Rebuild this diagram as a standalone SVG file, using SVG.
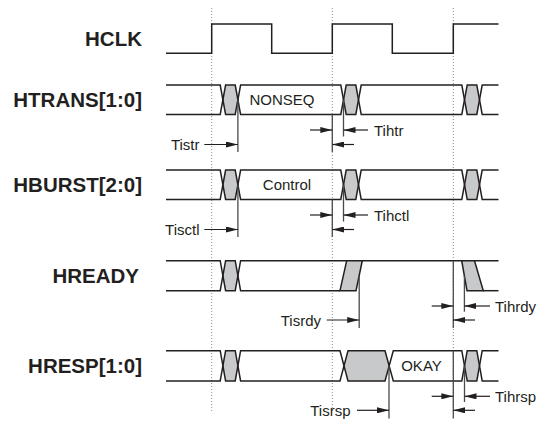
<svg xmlns="http://www.w3.org/2000/svg" width="539" height="421" viewBox="0 0 539 421">
<defs>
<style>
.sig{fill:none;stroke:#231f20;stroke-width:1.5;stroke-linejoin:miter}
.gray{fill:#c8c9cb;stroke:none}
.grays{fill:#c8c9cb;stroke:#231f20;stroke-width:1.5}
.dot{fill:none;stroke:#8a8a8a;stroke-width:1;stroke-dasharray:1 2}
.tl{fill:none;stroke:#4a4a4a;stroke-width:1.3}
.arr{fill:none;stroke:#231f20;stroke-width:1.2}
.lbl{font-family:"Liberation Sans",Arial,sans-serif;font-weight:bold;font-size:20.5px;fill:#231f20;text-anchor:end}
.t{font-family:"Liberation Sans",Arial,sans-serif;font-size:15px;fill:#231f20}
</style>
<marker id="ah" viewBox="0 0 12 6" refX="12" refY="3" markerWidth="12" markerHeight="6" markerUnits="userSpaceOnUse" orient="auto">
<path d="M0,0 L12,3 L0,6 Z" fill="#231f20"/>
</marker>
</defs>
<rect width="539" height="421" fill="#fff"/>

<g id="gridlines">
<line class="dot" x1="211.7" y1="8" x2="211.7" y2="412"/>
<line class="dot" x1="332.3" y1="8" x2="332.3" y2="412"/>
<line class="dot" x1="453.3" y1="8" x2="453.3" y2="412"/>
</g>

<g id="hclk">
<text class="lbl" x="142" y="45.7">HCLK</text>
<path class="sig" d="M166,53.3 H211.7 V24 H271.7 V53.3 H332.3 V24 H392.3 V53.3 H453.3 V24 H498.5"/>
</g>

<g id="htrans">
<text class="lbl" x="142" y="107">HTRANS[1:0]</text>
<polygon class="gray" points="222.9,99.75 225.6,85 235.2,85 237.9,99.75 235.2,114.5 225.6,114.5"/>
<polygon class="gray" points="343.5,99.75 346.2,85 355.8,85 358.5,99.75 355.8,114.5 346.2,114.5"/>
<polygon class="gray" points="464.5,99.75 467.2,85 476.8,85 479.5,99.75 476.8,114.5 467.2,114.5"/>
<path class="sig" d="M166,85 H220.2 L225.6,114.5 H235.2 L240.6,85 H340.8 L346.2,114.5 H355.8 L361.2,85 H461.8 L467.2,114.5 H476.8 L482.2,85 H498.5"/>
<path class="sig" d="M166,114.5 H220.2 L225.6,85 H235.2 L240.6,114.5 H340.8 L346.2,85 H355.8 L361.2,114.5 H461.8 L467.2,85 H476.8 L482.2,114.5 H498.5"/>
<text class="t" x="282" y="105.2" text-anchor="middle">NONSEQ</text>
</g>

<g id="hburst">
<text class="lbl" x="142" y="192">HBURST[2:0]</text>
<polygon class="gray" points="222.9,184.75 225.6,170 235.2,170 237.9,184.75 235.2,199.5 225.6,199.5"/>
<polygon class="gray" points="343.5,184.75 346.2,170 355.8,170 358.5,184.75 355.8,199.5 346.2,199.5"/>
<polygon class="gray" points="464.5,184.75 467.2,170 476.8,170 479.5,184.75 476.8,199.5 467.2,199.5"/>
<path class="sig" d="M166,170 H220.2 L225.6,199.5 H235.2 L240.6,170 H340.8 L346.2,199.5 H355.8 L361.2,170 H461.8 L467.2,199.5 H476.8 L482.2,170 H498.5"/>
<path class="sig" d="M166,199.5 H220.2 L225.6,170 H235.2 L240.6,199.5 H340.8 L346.2,170 H355.8 L361.2,199.5 H461.8 L467.2,170 H476.8 L482.2,199.5 H498.5"/>
<text class="t" x="287" y="190.2" text-anchor="middle">Control</text>
</g>

<g id="hready">
<text class="lbl" x="139" y="282.7">HREADY</text>
<polygon class="gray" points="222.9,275.7 225.6,260.7 235.2,260.7 237.9,275.7 235.2,290.7 225.6,290.7"/>
<path class="sig" d="M166,260.7 H220.2 L225.6,290.7 H235.2 L240.6,260.7 H498.5"/>
<path class="sig" d="M166,290.7 H220.2 L225.6,260.7 H235.2 L240.6,290.7 H340"/>
<polygon class="grays" points="340,290.7 346.7,260.7 362.3,260.7 356,290.7"/>
<polygon class="grays" points="461.7,260.7 474.5,260.7 483.3,290.7 467,290.7"/>
<path class="sig" d="M483.3,290.7 H498.5"/>
</g>

<g id="hresp">
<text class="lbl" x="142" y="373">HRESP[1:0]</text>
<polygon class="gray" points="222.9,365.85 225.6,350.7 235.2,350.7 237.9,365.85 235.2,381 225.6,381"/>
<polygon class="gray" points="344,365.85 348,350.7 385,350.7 389,365.85 385,381 348,381"/>
<polygon class="gray" points="464.5,365.85 467.2,350.7 476.8,350.7 479.5,365.85 476.8,381 467.2,381"/>
<path class="sig" d="M166,350.7 H220.2 L225.6,381 H235.2 L240.6,350.7 H340 L348,381 H385 L393.3,350.7 H461.8 L467.2,381 H476.8 L482.2,350.7 H498.5"/>
<path class="sig" d="M166,381 H220.2 L225.6,350.7 H235.2 L240.6,381 H340 L348,350.7 H385 L393.3,381 H461.8 L467.2,350.7 H476.8 L482.2,381 H498.5"/>
<text class="t" x="421.5" y="371.3" text-anchor="middle">OKAY</text>
</g>

<g id="connectors">
<!-- HTRANS timing -->
<line class="tl" x1="237.9" y1="99.75" x2="237.9" y2="152"/>
<line class="tl" x1="332.3" y1="114.5" x2="332.3" y2="152"/>
<line class="tl" x1="343.5" y1="99.75" x2="343.5" y2="136.5"/>
<line class="arr" x1="204.3" y1="144.5" x2="237.9" y2="144.5" marker-end="url(#ah)"/>
<line class="arr" x1="310" y1="130" x2="332.3" y2="130" marker-end="url(#ah)"/>
<line class="arr" x1="368" y1="130" x2="343.5" y2="130" marker-end="url(#ah)"/>
<line class="arr" x1="354" y1="144.5" x2="332.3" y2="144.5" marker-end="url(#ah)"/>
<!-- HBURST timing -->
<line class="tl" x1="237.9" y1="184.75" x2="237.9" y2="237"/>
<line class="tl" x1="332.3" y1="199.5" x2="332.3" y2="237"/>
<line class="tl" x1="343.5" y1="184.75" x2="343.5" y2="221.5"/>
<line class="arr" x1="204.3" y1="229.5" x2="237.9" y2="229.5" marker-end="url(#ah)"/>
<line class="arr" x1="310" y1="215" x2="332.3" y2="215" marker-end="url(#ah)"/>
<line class="arr" x1="368" y1="215" x2="343.5" y2="215" marker-end="url(#ah)"/>
<line class="arr" x1="354" y1="229.5" x2="332.3" y2="229.5" marker-end="url(#ah)"/>
<!-- HREADY timing -->
<line class="tl" x1="359.2" y1="275.7" x2="359.2" y2="328"/>
<line class="tl" x1="453.3" y1="260.7" x2="453.3" y2="328"/>
<line class="tl" x1="464.4" y1="275.7" x2="464.4" y2="311.7"/>
<line class="arr" x1="326.7" y1="320" x2="359.2" y2="320" marker-end="url(#ah)"/>
<line class="arr" x1="431.7" y1="306" x2="453.3" y2="306" marker-end="url(#ah)"/>
<line class="arr" x1="490" y1="306" x2="464.4" y2="306" marker-end="url(#ah)"/>
<line class="arr" x1="475" y1="320" x2="453.3" y2="320" marker-end="url(#ah)"/>
<!-- HRESP timing -->
<line class="tl" x1="389" y1="365.85" x2="389" y2="418.5"/>
<line class="tl" x1="453.3" y1="350.7" x2="453.3" y2="418.5"/>
<line class="tl" x1="464.5" y1="365.85" x2="464.5" y2="402"/>
<line class="arr" x1="357" y1="410.3" x2="389" y2="410.3" marker-end="url(#ah)"/>
<line class="arr" x1="431.7" y1="396.3" x2="453.3" y2="396.3" marker-end="url(#ah)"/>
<line class="arr" x1="490" y1="396.3" x2="464.5" y2="396.3" marker-end="url(#ah)"/>
<line class="arr" x1="475" y1="410.3" x2="453.3" y2="410.3" marker-end="url(#ah)"/>
</g>

<g id="timing-labels">
<text class="t" x="199.5" y="150" text-anchor="end">Tistr</text>
<text class="t" x="374" y="135.5">Tihtr</text>
<text class="t" x="199.5" y="235" text-anchor="end">Tisctl</text>
<text class="t" x="374" y="220.5">Tihctl</text>
<text class="t" x="321" y="325.5" text-anchor="end">Tisrdy</text>
<text class="t" x="495" y="311.5">Tihrdy</text>
<text class="t" x="350.5" y="415.8" text-anchor="end">Tisrsp</text>
<text class="t" x="495" y="401.8">Tihrsp</text>
</g>
</svg>
